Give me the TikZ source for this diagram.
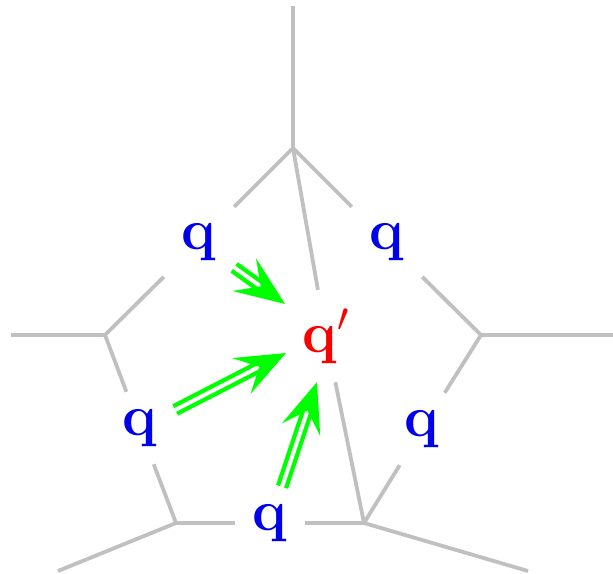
\RequirePackage{fix-cm}
\documentclass[tikz,border=0pt]{standalone}
\usetikzlibrary{arrows.meta}
\definecolor{edgegray}{RGB}{192,192,192}
\definecolor{qblue}{RGB}{0,0,235}
\definecolor{qred}{RGB}{250,0,0}
\definecolor{agreen}{RGB}{0,255,0}
\tikzset{
  edgeline/.style={draw=edgegray, line width=3.8pt},
  qlab/.style={text=qblue, font=\fontsize{58}{60}\selectfont\bfseries, inner sep=0pt,
    minimum width=70pt, minimum height=72pt},
  qplab/.style={text=qred, font=\fontsize{58}{60}\selectfont\bfseries, inner sep=0pt,
    minimum width=70pt, minimum height=92pt},
  garrow/.style={draw=agreen, line width=4.3pt, double=white, double distance=4pt,
    -{Stealth[length=50pt, width=40pt, inset=20pt]}}
}
\begin{document}
\begin{tikzpicture}[x=1pt, y=-1pt]
\useasboundingbox (0,0) rectangle (613,573);
% vertices
\coordinate (vT) at (293,148);
\coordinate (vL) at (105,335);
\coordinate (vR) at (481,335);
\coordinate (vBL) at (176,523);
\coordinate (vBR) at (364,523);
% outer ends
\coordinate (oT) at (293,6);
\coordinate (oL) at (11,335);
\coordinate (oR) at (613,335);
\coordinate (oBL) at (58,571);
\coordinate (oBR) at (528,571);
% arrow tips
\coordinate (t1) at (285,304);
\coordinate (t2) at (286,353);
\coordinate (t3) at (317,382);
% labels
\node[qlab] (qTL) at (199,242) {q};
\node[qlab] (qTR) at (387,242) {q};
\node[qlab] (qL) at (140,428) {q};
\node[qlab] (qR) at (422,429) {q};
\node[qlab] (qB) at (270,523) {q};
\node[qplab] (qp) at (326,336) {$\mathbf{q}'$};
% outer lines
\draw[edgeline] (vT) -- (oT);
\draw[edgeline] (vL) -- (oL);
\draw[edgeline] (vR) -- (oR);
\draw[edgeline] (vBL) -- (oBL);
\draw[edgeline] (vBR) -- (oBR);
% pentagon edges
\draw[edgeline] (vL) -- (qTL) -- (vT);
\draw[edgeline] (vT) -- (qTR) -- (vR);
\draw[edgeline] (vL) -- (qL) -- (vBL);
\draw[edgeline] (vR) -- (qR) -- (vBR);
\draw[edgeline] (vBL) -- (qB) -- (vBR);
% diagonal through q'
\draw[edgeline] (vT) -- (qp) -- (vBR);
% green arrows
\draw[garrow] (qTL) -- (t1);
\draw[garrow] (qL) -- (t2);
\draw[garrow] (qB) -- (t3);
\end{tikzpicture}
\end{document}
